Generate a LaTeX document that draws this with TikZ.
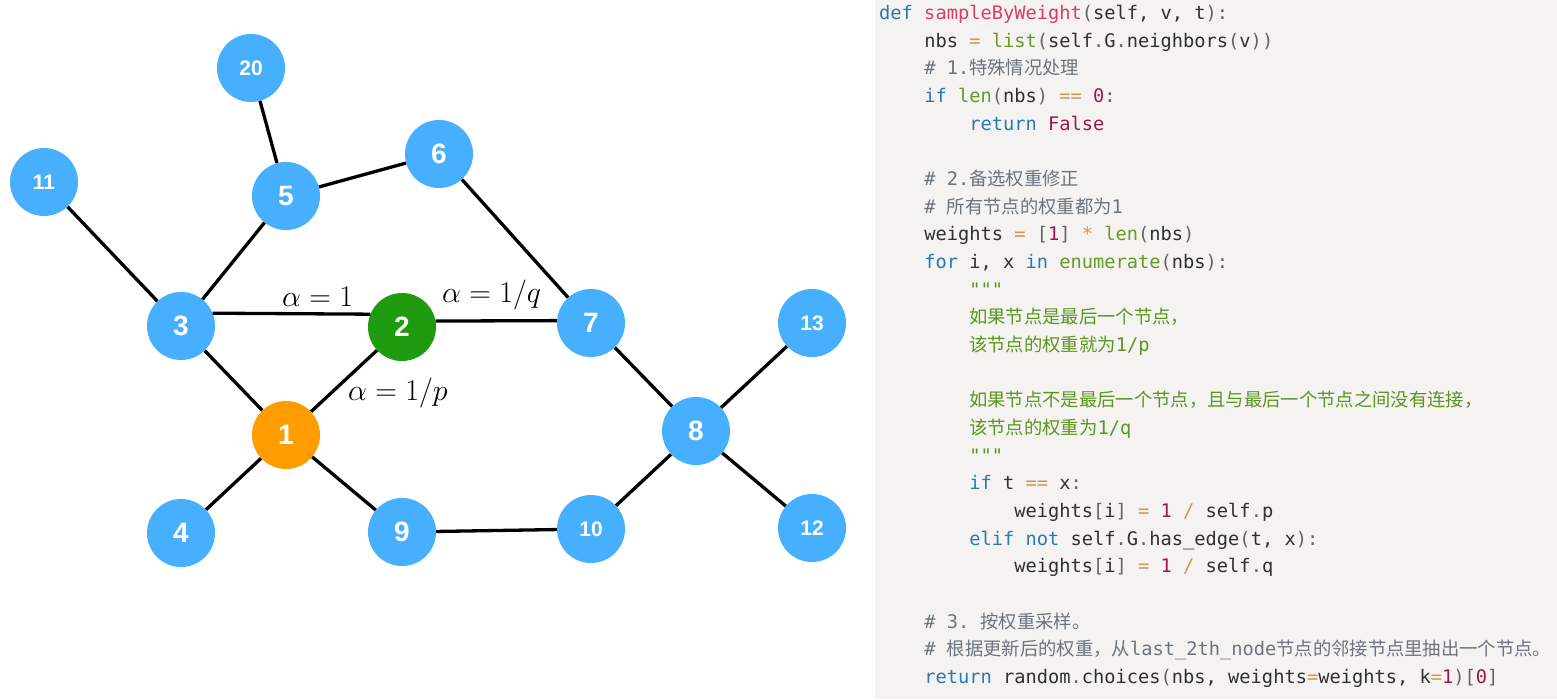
\documentclass[tikz,border=0pt]{standalone}
\usepackage{fix-cm}
\usepackage{fontspec}
\setmonofont{DejaVu Sans Mono}
\newfontfamily\nodefont{Liberation Sans}
\newfontfamily\cjk{Noto Sans CJK SC}[Scale=0.98]
\definecolor{panel}{RGB}{244,243,241}
\definecolor{nblue}{RGB}{70,176,255}
\definecolor{ngreen}{RGB}{30,155,15}
\definecolor{norange}{RGB}{255,157,0}
\definecolor{kw}{RGB}{42,122,178}
\definecolor{fn}{RGB}{214,64,96}
\definecolor{bi}{RGB}{104,152,38}
\definecolor{op}{RGB}{206,150,80}
\definecolor{num}{RGB}{158,22,82}
\definecolor{cmt}{RGB}{108,116,126}
\definecolor{dstr}{RGB}{92,150,30}
\definecolor{txt}{RGB}{48,48,48}
\definecolor{pun}{RGB}{100,100,100}
\newcommand\K[1]{\textcolor{kw}{#1}}
\newcommand\F[1]{\textcolor{fn}{#1}}
\newcommand\B[1]{\textcolor{bi}{#1}}
\newcommand\Op[1]{\textcolor{op}{#1}}
\newcommand\N[1]{\textcolor{num}{#1}}
\newcommand\Cm[1]{\textcolor{cmt}{#1}}
\newcommand\Ds[1]{\textcolor{dstr}{#1}}
\newcommand\Pu[1]{\textcolor{pun}{#1}}
\newcommand\codeline[3]{\node[codetxt] (L#1) at ({879+#2*11.26},{19.5+27.67*#1}) {#3};}
\tikzset{
  gnode/.style={circle, minimum size=68pt, inner sep=0pt, fill=nblue, text=white,
    font=\nodefont\bfseries\fontsize{28}{28}\selectfont},
  gsmall/.style={gnode, font=\nodefont\bfseries\fontsize{21}{21}\selectfont},
  edge/.style={draw=black, line width=3.3pt},
  alab/.style={anchor=base west, inner sep=0pt, font=\fontsize{30}{30}\selectfont},
  codetxt/.style={anchor=base west, inner sep=0pt, text=txt,
    font=\ttfamily\fontsize{18.7}{22}\selectfont\frenchspacing}
}
\begin{document}
\begin{tikzpicture}[x=1pt,y=-1pt]
\useasboundingbox (0,0) rectangle (1557,699);
\fill[white] (0,0) rectangle (1557,699);
\fill[panel] (875,0) rectangle (1557,699);
% graph nodes
\node[gsmall] (n20) at (251,68) {20};
\node[gsmall] (n11) at (44,182) {11};
\node[gnode] (n5) at (286,196) {5};
\node[gnode] (n6) at (439,154) {6};
\node[gnode] (n3) at (181,326) {3};
\node[gnode, fill=ngreen] (n2) at (402,327) {2};
\node[gnode] (n7) at (591,323) {7};
\node[gsmall] (n13) at (812,323) {13};
\node[gnode, fill=norange] (n1) at (286,435) {1};
\node[gnode] (n8) at (696,431) {8};
\node[gnode] (n4) at (181,533) {4};
\node[gnode] (n9) at (402,532) {9};
\node[gsmall] (n10) at (591,529) {10};
\node[gsmall] (n12) at (812,528) {12};
% edges
\draw[edge] (n20) -- (n5);
\draw[edge] (n11) -- (n3);
\draw[edge] (n5) -- (n3);
\draw[edge] (n5) -- (n6);
\draw[edge] (n6) -- (n7);
\draw[edge] (n3.22) -- (n2.158);
\draw[edge] (n2.10) -- (n7.176);
\draw[edge] (n3) -- (n1);
\draw[edge] (n2) -- (n1);
\draw[edge] (n1) -- (n4);
\draw[edge] (n1) -- (n9);
\draw[edge] (n9) -- (n10);
\draw[edge] (n10) -- (n8);
\draw[edge] (n7) -- (n8);
\draw[edge] (n8) -- (n13);
\draw[edge] (n8) -- (n12);
% labels
\node[alab] (la) at (282,306) {$\alpha = 1$};
\node[alab] (lb) at (442,302) {$\alpha = 1/q$};
\node[alab] (lc) at (348,400) {$\alpha = 1/p$};
% code
\codeline{0}{0}{\K{def} \F{sampleByWeight}\Pu{(}self, v, t\Pu{):}}
\codeline{1}{4}{nbs \Op{=} \B{list}\Pu{(}self\Pu{.}G\Pu{.}neighbors\Pu{(}v\Pu{))}}
\codeline{2}{4}{\Cm{\# 1.{\cjk 特殊情况处理}}}
\codeline{3}{4}{\K{if} \B{len}\Pu{(}nbs\Pu{)} \Op{==} \N{0}\Pu{:}}
\codeline{4}{8}{\K{return} \N{False}}
\codeline{6}{4}{\Cm{\# 2.{\cjk 备选权重修正}}}
\codeline{7}{4}{\Cm{\# {\cjk 所有节点的权重都为}1}}
\codeline{8}{4}{weights \Op{=} \Pu{[}\N{1}\Pu{]} \Op{*} \B{len}\Pu{(}nbs\Pu{)}}
\codeline{9}{4}{\K{for} i, x \K{in} \B{enumerate}\Pu{(}nbs\Pu{):}}
\codeline{10}{8}{\Ds{"""}}
\codeline{11}{8}{\Ds{{\cjk 如果节点是最后一个节点，}}}
\codeline{12}{8}{\Ds{{\cjk 该节点的权重就为}1/p}}
\codeline{14}{8}{\Ds{{\cjk 如果节点不是最后一个节点，且与最后一个节点之间没有连接，}}}
\codeline{15}{8}{\Ds{{\cjk 该节点的权重为}1/q}}
\codeline{16}{8}{\Ds{"""}}
\codeline{17}{8}{\K{if} t \Op{==} x\Pu{:}}
\codeline{18}{12}{weights\Pu{[}i\Pu{]} \Op{=} \N{1} \Op{/} self\Pu{.}p}
\codeline{19}{8}{\K{elif} \K{not} self\Pu{.}G\Pu{.}has\_edge\Pu{(}t, x\Pu{):}}
\codeline{20}{12}{weights\Pu{[}i\Pu{]} \Op{=} \N{1} \Op{/} self\Pu{.}q}
\codeline{22}{4}{\Cm{\# 3. {\cjk 按权重采样。}}}
\codeline{23}{4}{\Cm{\# {\cjk 根据更新后的权重，从}last\_2th\_node{\cjk 节点的邻接节点里抽出一个节点。}}}
\codeline{24}{4}{\K{return} random\Pu{.}choices\Pu{(}nbs, weights\Op{=}weights, k\Op{=}\N{1}\Pu{)[}\N{0}\Pu{]}}
\end{tikzpicture}
\end{document}
